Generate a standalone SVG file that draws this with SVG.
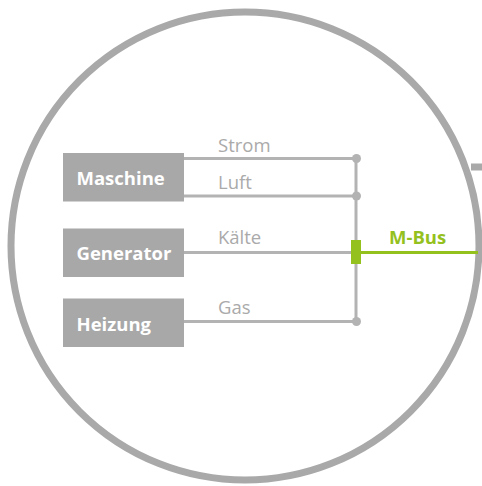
<svg xmlns="http://www.w3.org/2000/svg" width="482" height="486" viewBox="0 0 482 486">
<style>
.box{fill:#a8a8a8}
.bl{font-family:"Open Sans","Liberation Sans",sans-serif;font-weight:bold;font-size:18.5px;fill:#fff}
.ll{font-family:"Open Sans","Liberation Sans",sans-serif;font-size:18.5px;fill:#aaaaaa}
.ln{stroke:#b3b3b3;stroke-width:3;fill:none}
.dot{fill:#b3b3b3}
</style>
<rect width="482" height="486" fill="#fff"/>
<circle cx="245" cy="246" r="234" fill="none" stroke="#a9a9a9" stroke-width="7"/>
<line x1="471" y1="167" x2="482" y2="167" stroke="#a9a9a9" stroke-width="7"/>
<g id="connectors">
<line class="ln" x1="184" y1="158.5" x2="356" y2="158.5"/>
<line class="ln" x1="184" y1="196" x2="356" y2="196"/>
<line class="ln" x1="184" y1="252.5" x2="356" y2="252.5"/>
<line class="ln" x1="184" y1="321.5" x2="356" y2="321.5"/>
<line class="ln" x1="356" y1="158.5" x2="356" y2="321.5"/>
<circle class="dot" cx="356.5" cy="158.5" r="4.5"/>
<circle class="dot" cx="356.5" cy="196" r="4.5"/>
<circle class="dot" cx="356.5" cy="321.5" r="4.5"/>
<line x1="360" y1="252.5" x2="478" y2="252.5" stroke="#95c11f" stroke-width="3"/>
<rect x="351" y="240" width="10" height="24" fill="#95c11f"/>
<text class="ll" x="218" y="151.5">Strom</text>
<text class="ll" x="218" y="189">Luft</text>
<text class="ll" x="218" y="244">Kälte</text>
<text class="ll" x="218" y="314">Gas</text>
<text x="389" y="244" font-family="'Open Sans','Liberation Sans',sans-serif" font-weight="bold" font-size="18.5" fill="#95c11f">M-Bus</text>
</g>
<g id="maschine"><rect class="box" x="63" y="153" width="121" height="48.5"/><text class="bl" x="76.5" y="185">Maschine</text></g>
<g id="generator"><rect class="box" x="63" y="228.5" width="121" height="48.5"/><text class="bl" x="76.5" y="259.5">Generator</text></g>
<g id="heizung"><rect class="box" x="63" y="298.5" width="121" height="48.5"/><text class="bl" x="76.5" y="331">Heizung</text></g>
</svg>
